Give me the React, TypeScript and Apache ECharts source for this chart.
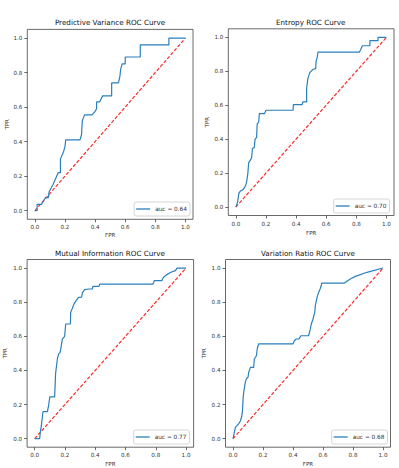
import React, { useEffect, useRef } from "react";
import * as echarts from "echarts";

const panelTitles = [
  "Predictive Variance ROC Curve",
  "Entropy ROC Curve",
  "Mutual Information ROC Curve",
  "Variation Ratio ROC Curve",
];
const aucLabels = ["auc = 0.64", "auc = 0.70", "auc = 0.77", "auc = 0.68"];
const tickValues = [0, 0.2, 0.4, 0.6, 0.8, 1.0];
const diagFpr = [0, 1];
const diagTpr = [0, 1];

const fprPV = [0, 0.015, 0.015, 0.045, 0.06, 0.07, 0.09, 0.095, 0.12, 0.155, 0.17, 0.17, 0.19, 0.2, 0.205, 0.3, 0.31, 0.315, 0.33, 0.38, 0.4, 0.41, 0.41, 0.43, 0.45, 0.51, 0.51, 0.555, 0.565, 0.57, 0.58, 0.6, 0.6, 0.7, 0.7, 0.89, 0.89, 1];
const tprPV = [0, 0, 0.037, 0.037, 0.06, 0.075, 0.075, 0.11, 0.15, 0.22, 0.22, 0.3, 0.34, 0.37, 0.41, 0.41, 0.44, 0.52, 0.555, 0.555, 0.575, 0.59, 0.63, 0.63, 0.665, 0.665, 0.74, 0.74, 0.78, 0.82, 0.85, 0.85, 0.89, 0.89, 0.96, 0.96, 1, 1];

const fprEN = [0, 0.004, 0.012, 0.02, 0.03, 0.044, 0.056, 0.064, 0.072, 0.08, 0.085, 0.095, 0.105, 0.11, 0.122, 0.128, 0.138, 0.142, 0.152, 0.156, 0.19, 0.2, 0.38, 0.382, 0.44, 0.445, 0.47, 0.47, 0.478, 0.49, 0.51, 0.53, 0.533, 0.54, 0.545, 0.82, 0.83, 0.84, 0.89, 0.89, 0.944, 0.944, 1];
const tprEN = [0, 0.008, 0.03, 0.08, 0.094, 0.1, 0.112, 0.125, 0.15, 0.2, 0.26, 0.275, 0.29, 0.345, 0.35, 0.4, 0.41, 0.49, 0.5, 0.55, 0.55, 0.57, 0.57, 0.603, 0.603, 0.62, 0.62, 0.7, 0.755, 0.79, 0.81, 0.815, 0.86, 0.88, 0.912, 0.912, 0.93, 0.95, 0.95, 0.98, 0.98, 1, 1];

const fprMI = [0, 0.033, 0.037, 0.044, 0.055, 0.084, 0.092, 0.1, 0.132, 0.136, 0.138, 0.15, 0.158, 0.168, 0.176, 0.183, 0.198, 0.205, 0.236, 0.238, 0.247, 0.26, 0.275, 0.29, 0.31, 0.315, 0.33, 0.36, 0.38, 0.385, 0.425, 0.43, 0.782, 0.79, 0.84, 0.85, 0.87, 0.9, 0.93, 0.94, 1];
const tprMI = [0, 0, 0.037, 0.076, 0.158, 0.158, 0.193, 0.245, 0.245, 0.33, 0.38, 0.467, 0.496, 0.506, 0.545, 0.584, 0.6, 0.672, 0.672, 0.74, 0.76, 0.79, 0.81, 0.828, 0.83, 0.855, 0.873, 0.877, 0.877, 0.893, 0.893, 0.906, 0.906, 0.926, 0.926, 0.945, 0.96, 0.975, 0.985, 1, 1];

const fprVR = [0, 0.009, 0.016, 0.027, 0.04, 0.05, 0.058, 0.063, 0.067, 0.071, 0.082, 0.089, 0.1, 0.105, 0.116, 0.138, 0.142, 0.156, 0.162, 0.171, 0.4, 0.409, 0.422, 0.44, 0.453, 0.504, 0.515, 0.522, 0.533, 0.545, 0.549, 0.56, 0.571, 0.582, 0.593, 0.742, 0.782, 0.816, 0.893, 1];
const tprVR = [0, 0.037, 0.066, 0.076, 0.09, 0.105, 0.13, 0.16, 0.23, 0.27, 0.33, 0.35, 0.36, 0.39, 0.418, 0.418, 0.467, 0.486, 0.53, 0.555, 0.555, 0.574, 0.584, 0.585, 0.603, 0.603, 0.64, 0.672, 0.7, 0.74, 0.78, 0.828, 0.857, 0.88, 0.912, 0.912, 0.936, 0.951, 0.975, 1];

const curvesFpr = [fprPV, fprEN, fprMI, fprVR];
const curvesTpr = [tprPV, tprEN, tprMI, tprVR];

const grids = [
  { left: 27.3, top: 29.4, width: 165.7, height: 189.9 },
  { left: 228.3, top: 28.8, width: 165.7, height: 186.7 },
  { left: 27.1, top: 259.5, width: 166.5, height: 187.7 },
  { left: 225.5, top: 259.5, width: 165, height: 187.7 },
];
const titlePos = [
  [110, 22.7],
  [310.7, 22.7],
  [110, 253],
  [308, 253],
];
const legendPos = [
  { right: 209, bottom: 252 },
  { right: 9.5, bottom: 255 },
  { right: 209.5, bottom: 24 },
  { right: 11.5, bottom: 24 },
];
const yNameGap = [17.8, 18.5, 19, 18.5];
const xNameGap = [13, 14, 13.7, 13.7];

const FONT = "DejaVu Sans";
const BLUE = "#2a7fbd";

export default function App() {
  const ref = useRef<HTMLDivElement>(null);
  useEffect(() => {
    if (!ref.current) return;
    const chart = echarts.init(ref.current, undefined, { renderer: "svg" });
    const zip = (xs: number[], ys: number[]) => xs.map((x, i) => [x, ys[i]]);
    const axisCommon = (i: number) => ({
      gridIndex: i,
      type: "value" as const,
      min: -0.05,
      max: 1.05,
      splitLine: { show: false },
      axisLine: { show: false, onZero: false },
      axisTick: {
        show: true,
        length: 3,
        customValues: tickValues,
        lineStyle: { color: "#444", width: 0.8 },
      },
      axisLabel: {
        customValues: tickValues,
        formatter: (v: number) => v.toFixed(1),
        fontSize: 5.6,
        fontFamily: FONT,
        color: "#333",
        margin: 5,
      },
      nameTextStyle: { fontSize: 5.5, fontFamily: FONT, color: "#333" },
    });
    const option: any = {
      animation: false,
      backgroundColor: "#fff",
      grid: grids.map((g) => ({
        ...g,
        show: true,
        borderColor: "#444",
        borderWidth: 0.8,
        backgroundColor: "transparent",
        containLabel: false,
        outerBoundsMode: "none",
      })),
      xAxis: grids.map((_, i) => ({
        ...axisCommon(i),
        name: "FPR",
        nameLocation: "middle",
        nameGap: xNameGap[i],
      })),
      yAxis: grids.map((_, i) => ({
        ...axisCommon(i),
        name: "TPR",
        nameLocation: "middle",
        nameGap: yNameGap[i],
      })),
      legend: grids.map((_, i) => ({
        data: [{ name: aucLabels[i], icon: "rect" }],
        ...legendPos[i],
        orient: "vertical",
        padding: [4, 3, 4, 2],
        itemWidth: 14,
        itemHeight: 1.3,
        borderColor: "#ccc",
        borderWidth: 0.8,
        borderRadius: 2,
        backgroundColor: "#fff",
        itemStyle: { color: BLUE },
        textStyle: { fontSize: 5.8, fontFamily: FONT, color: "#333" },
      })),
      graphic: panelTitles.map((t, i) => ({
        type: "text",
        x: titlePos[i][0],
        y: titlePos[i][1],
        style: {
          text: t,
          fontSize: 7.2,
          fontFamily: FONT,
          fill: "#111",
          textAlign: "center",
          textVerticalAlign: "middle",
        },
      })),
      series: [
        ...grids.map((_, i) => ({
          name: aucLabels[i],
          type: "line",
          xAxisIndex: i,
          yAxisIndex: i,
          data: zip(curvesFpr[i], curvesTpr[i]),
          symbol: "none",
          lineStyle: { color: BLUE, width: 1.2 },
          itemStyle: { color: BLUE },
          z: 3,
        })),
        ...grids.map((_, i) => ({
          name: "diag" + i,
          type: "line",
          xAxisIndex: i,
          yAxisIndex: i,
          data: zip(diagFpr, diagTpr),
          symbol: "none",
          lineStyle: { color: "#ff2a2a", width: 1.2, type: [3.5, 1.8] },
          itemStyle: { color: "#ff2a2a" },
          z: 2,
        })),
      ],
    };
    chart.setOption(option);
    return () => chart.dispose();
  }, []);
  return (
    <div
      ref={ref}
      style={{ position: "fixed", left: 0, top: 0, width: 399, height: 468 }}
    />
  );
}
